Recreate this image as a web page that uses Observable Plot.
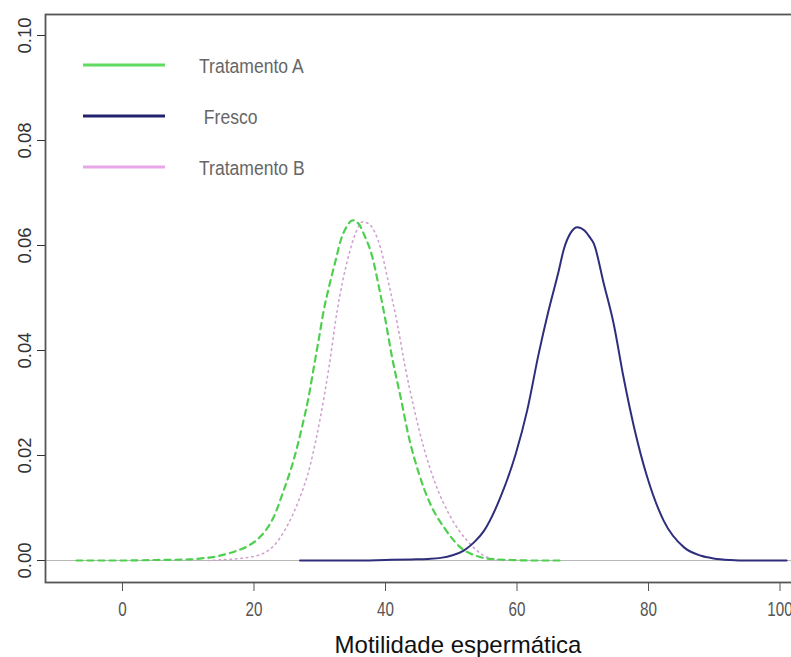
<!DOCTYPE html>
<html>
<head>
<meta charset="utf-8">
<script src="https://cdn.jsdelivr.net/npm/d3@7"></script>
<script src="https://cdn.jsdelivr.net/npm/@observablehq/plot@0.6"></script>
<style>
  html, body { margin: 0; padding: 0; background: #fff; overflow: hidden; }
  #wrap { position: relative; width: 791px; height: 657px; overflow: hidden; }
  #wrap > svg { max-width: none !important; }
  #legend { position: absolute; left: 0; top: 0; }
</style>
</head>
<body>
<div id="wrap"></div>
<script>
// ---- data ----
const trtAx = [-7, 0, 5, 10, 12, 14, 16, 17.5, 19, 21, 23, 24.5, 26, 27.3, 28.3, 29.1, 29.9, 30.6, 31.4, 32.4, 33.2, 34.2, 35.0, 36.0, 36.7, 38.0, 39.0, 40.0, 41.0, 42.3, 43.55, 45.1, 46.8, 48.9, 51.4, 54, 56, 59, 63, 67];
const trtAy = [0, 0, 0.0001, 0.0002, 0.0004, 0.0007, 0.0013, 0.0019, 0.0027, 0.0046, 0.0083, 0.0133, 0.0190, 0.0254, 0.0311, 0.0368, 0.0425, 0.0476, 0.0521, 0.0571, 0.0610, 0.0638, 0.0648, 0.0640, 0.0622, 0.0578, 0.0521, 0.0457, 0.0387, 0.0311, 0.0235, 0.0165, 0.0108, 0.0063, 0.0025, 0.0008, 0.0003, 0.0001, 0, 0];

const frescoX = [27, 35, 40, 44, 46.5, 48.4, 50.2, 51.9, 53.5, 55.0, 57.5, 59.8, 61.55, 63.3, 64.8, 66.35, 67.1, 68.2, 69.15, 70.3, 71.0, 71.7, 73.2, 74.7, 76.2, 77.8, 79.8, 82.3, 85.4, 88, 89.9, 92.5, 95, 101];
const frescoY = [0, 0, 0.0001, 0.0002, 0.0003, 0.0005, 0.0010, 0.0019, 0.0035, 0.0057, 0.0121, 0.0203, 0.0286, 0.0394, 0.0476, 0.0552, 0.0592, 0.0625, 0.0635, 0.0628, 0.0617, 0.0603, 0.0527, 0.0451, 0.0349, 0.0254, 0.0159, 0.0076, 0.0025, 0.0009, 0.0004, 0.0001, 0, 0];

const trtBx = [13, 16, 18, 20, 21.5, 23, 24, 25.3, 26.6, 28.6, 30.1, 31.4, 32.65, 34.2, 35.5, 36.5, 37.5, 39.2, 40.5, 41.8, 43.0, 44.3, 45.8, 47.6, 49.9, 52.4, 55.5, 58];
const trtBy = [0, 0.0002, 0.0004, 0.0008, 0.0014, 0.0028, 0.0044, 0.0072, 0.0108, 0.0184, 0.0273, 0.0368, 0.0476, 0.0571, 0.0625, 0.0645, 0.0641, 0.0597, 0.0527, 0.0451, 0.0368, 0.0292, 0.0216, 0.0146, 0.0083, 0.0038, 0.0006, 0];

const xTicks = [0, 20, 40, 60, 80, 100];
const yTicks = [0, 0.02, 0.04, 0.06, 0.08, 0.10];
const legendLabels = ["Tratamento A", " Fresco", "Tratamento B"];
const xTitle = "Motilidade espermática";

// ---- styles ----
const cA = "#4fcf4f", cF = "#2e2e7c", cB = "#cfa2cf";
const legendColors = ["#5fdc5f", "#22226e", "#e8a8e8"];

const rows = (name, xs, ys) => xs.map((x, i) => ({series: name, x, y: ys[i]}));
const dataA = rows("Tratamento A", trtAx, trtAy);
const dataF = rows("Fresco", frescoX, frescoY);
const dataB = rows("Tratamento B", trtBx, trtBy);

const sans = '"Liberation Sans", Arial, sans-serif';

const chart = Plot.plot({
  width: 802,
  height: 657,
  marginLeft: 45,
  marginRight: 0,
  marginTop: 14,
  marginBottom: 75,
  style: {fontFamily: sans, background: "#fff", overflow: "visible", maxWidth: "none"},
  x: {domain: [-11.71, 103.42]},
  y: {domain: [-0.00419, 0.10400]},
  marks: [
    Plot.ruleY([0], {stroke: "#b8b8b8", strokeWidth: 1.2}),
    Plot.line(dataB, {x: "x", y: "y", stroke: cB, strokeWidth: 1.6, strokeDasharray: "1.5,4", curve: "monotone-x"}),
    Plot.line(dataA, {x: "x", y: "y", stroke: cA, strokeWidth: 2.2, strokeDasharray: "6,5", curve: "monotone-x"}),
    Plot.line(dataF, {x: "x", y: "y", stroke: cF, strokeWidth: 2, curve: "monotone-x"}),
    Plot.frame({stroke: "#555", strokeWidth: 1.8}),
    Plot.axisX({ticks: xTicks, tickSize: 9, tickPadding: 11, fontSize: 19.5, fontFamily: sans, color: "#555", label: null}),
    Plot.text([xTitle], {frameAnchor: "bottom", lineAnchor: "bottom", dx: 34, dy: 70.5, fontSize: 24, fontFamily: sans, fill: "#111", text: d => d}),
    Plot.axisY({ticks: yTicks, tickFormat: d3.format(".2f"), tickSize: 8, tickPadding: 7, tickRotate: -90, fontSize: 18.5, fontFamily: sans, color: "#333", label: null})
  ]
});
// condense the x tick labels horizontally, as in the reference
chart.querySelectorAll('g[aria-label="x-axis tick label"] text').forEach(t => {
  const tr = t.getAttribute("transform") || "";
  t.setAttribute("transform", tr + " scale(0.78,1)");
});
const wrap = document.getElementById("wrap");
wrap.appendChild(chart);

// ---- legend overlay ----
const ns = "http://www.w3.org/2000/svg";
const lg = document.createElementNS(ns, "svg");
lg.setAttribute("id", "legend");
lg.setAttribute("width", 340);
lg.setAttribute("height", 200);
const ly = [65, 116, 167];
legendLabels.forEach((t, i) => {
  const l = document.createElementNS(ns, "line");
  l.setAttribute("x1", 83); l.setAttribute("x2", 165);
  l.setAttribute("y1", ly[i]); l.setAttribute("y2", ly[i]);
  l.setAttribute("stroke", legendColors[i]); l.setAttribute("stroke-width", 3);
  lg.appendChild(l);
  const tx = document.createElementNS(ns, "text");
  tx.setAttribute("transform", `translate(199,${ly[i] + 3}) scale(0.9,1)`);
  tx.setAttribute("dominant-baseline", "middle");
  tx.setAttribute("font-family", sans);
  tx.setAttribute("font-size", 19.5);
  tx.setAttribute("fill", "#666");
  tx.style.whiteSpace = "pre";
  tx.textContent = t;
  lg.appendChild(tx);
});
wrap.appendChild(lg);
</script>
</body>
</html>
